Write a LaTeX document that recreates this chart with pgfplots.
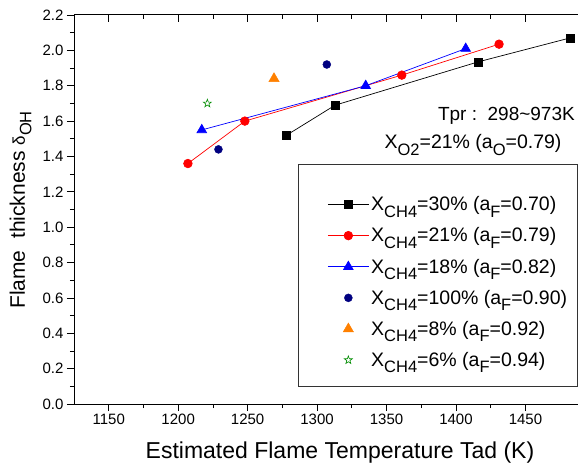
\documentclass[border=0pt]{standalone}
\usepackage{pgfplots}
\pgfplotsset{compat=1.18}
\usepackage{fontspec}
\setmainfont{Liberation Sans}
\usetikzlibrary{plotmarks}
\definecolor{navy}{RGB}{0,0,128}
\definecolor{orng}{RGB}{255,128,0}
\definecolor{grn}{RGB}{0,140,0}
\newcommand{\sub}[1]{\raisebox{-6.5bp}{\fontsize{16.5bp}{16.5bp}\selectfont #1}}

% hollow five-pointed star
\pgfdeclareplotmark{ostar}{%
  \pgfmathsetlengthmacro\rin{0.40*\pgfplotmarksize}%
  \pgfpathmoveto{\pgfpointpolar{90}{\pgfplotmarksize}}%
  \pgfpathlineto{\pgfpointpolar{126}{\rin}}%
  \pgfpathlineto{\pgfpointpolar{162}{\pgfplotmarksize}}%
  \pgfpathlineto{\pgfpointpolar{198}{\rin}}%
  \pgfpathlineto{\pgfpointpolar{234}{\pgfplotmarksize}}%
  \pgfpathlineto{\pgfpointpolar{270}{\rin}}%
  \pgfpathlineto{\pgfpointpolar{306}{\pgfplotmarksize}}%
  \pgfpathlineto{\pgfpointpolar{342}{\rin}}%
  \pgfpathlineto{\pgfpointpolar{18}{\pgfplotmarksize}}%
  \pgfpathlineto{\pgfpointpolar{54}{\rin}}%
  \pgfpathclose
  \pgfusepathqstroke
}

\begin{document}
\begin{tikzpicture}
\begin{axis}[
  at={(0,0)}, anchor=south west,
  scale only axis, width=507bp, height=389bp,
  xmin=1125, xmax=1490, ymin=0, ymax=2.2,
  xtick={1150,1200,...,1450}, minor x tick num=1,
  ytick={0,0.2,0.4,0.6,0.8,1.0,1.2,1.4,1.6,1.8,2.0,2.2}, minor y tick num=1,
  xtick pos=bottom, ytick pos=left, tick align=outside,
  major tick length=7bp, minor tick length=4bp,
  tick style={black, line width=0.8bp},
  axis line style={line width=1bp},
  ticklabel style={font=\fontsize{15bp}{15bp}\selectfont},
  /pgf/number format/assume math mode=true,
  /pgf/number format/1000 sep={},
  yticklabel style={/pgf/number format/.cd, fixed, fixed zerofill, precision=1},
  legend cell align=left,
  legend style={draw=none, fill=none, inner sep=0pt, outer sep=0pt,
    at={(0.50,0.538)}, anchor=north west, row sep=11.5bp,
    font=\fontsize{19.5bp}{19.5bp}\selectfont},
  legend image code/.code={\draw[mark repeat=2, mark phase=2]
    plot coordinates {(0bp,0bp) (20.5bp,0bp) (41bp,0bp)};},
]
\addplot[black, line width=0.7bp, mark=square*, mark size=4bp]
  coordinates {(1278,1.52) (1313,1.69) (1416,1.935) (1482,2.07)};
\addlegendentry{X\sub{CH4}=30\% (a\sub{F}=0.70)}
\addplot[red, line width=0.7bp, mark=*, mark size=4.3bp]
  coordinates {(1207,1.36) (1248,1.60) (1361,1.86) (1431,2.035)};
\addlegendentry{X\sub{CH4}=21\% (a\sub{F}=0.79)}
\addplot[blue, line width=0.7bp, mark=triangle*, mark size=5.5bp]
  coordinates {(1217,1.55) (1335,1.80) (1407,2.01)};
\addlegendentry{X\sub{CH4}=18\% (a\sub{F}=0.82)}
\addplot[navy, only marks, mark=*, mark size=4bp]
  coordinates {(1307,1.92) (1229,1.44)};
\addlegendentry{X\sub{CH4}=100\% (a\sub{F}=0.90)}
\addplot[orng, only marks, mark=triangle*, mark size=6bp]
  coordinates {(1269,1.84)};
\addlegendentry{X\sub{CH4}=8\% (a\sub{F}=0.92)}
\addplot[grn, only marks, mark=ostar, mark size=4.2bp, line width=0.6bp]
  coordinates {(1221,1.70)};
\addlegendentry{X\sub{CH4}=6\% (a\sub{F}=0.94)}
\end{axis}
% top ticks pointing inward
\begin{axis}[
  at={(0,0)}, anchor=south west,
  scale only axis, width=507bp, height=389bp,
  xmin=1125, xmax=1490, ymin=0, ymax=2.2,
  xtick={1150,1200,...,1450}, minor x tick num=1,
  xticklabels={}, ytick=\empty,
  xtick pos=top, tick align=inside,
  major tick length=7.5bp, minor tick length=4bp,
  tick style={black, line width=0.8bp},
  axis line style={draw=none},
]
\end{axis}
\draw[line width=0.8bp, black!80] (224bp,18bp) rectangle (503bp,240bp);
\node[anchor=base east, inner sep=0pt, font=\fontsize{19bp}{19bp}\selectfont] at (501bp,283bp)
  {Tpr :\ \ 298\textasciitilde 973K};
\node[anchor=base east, font=\fontsize{19.5bp}{19.5bp}\selectfont] at (491bp,255bp)
  {X\sub{O2}=21\% (a\sub{O}=0.79)};
\node[anchor=base, font=\fontsize{23bp}{23bp}\selectfont] at (266bp,-54bp)
  {Estimated Flame Temperature Tad (K)};
\node[anchor=base, rotate=90, font=\fontsize{21bp}{21bp}\selectfont] at (-49bp,194bp)
  {Flame\ \ thickness {\fontsize{17bp}{17bp}\selectfont δ}\sub{OH}};
\pgfresetboundingbox
\path[use as bounding box] (-74bp,-63bp) rectangle (504bp,404bp);
\end{tikzpicture}
\end{document}
